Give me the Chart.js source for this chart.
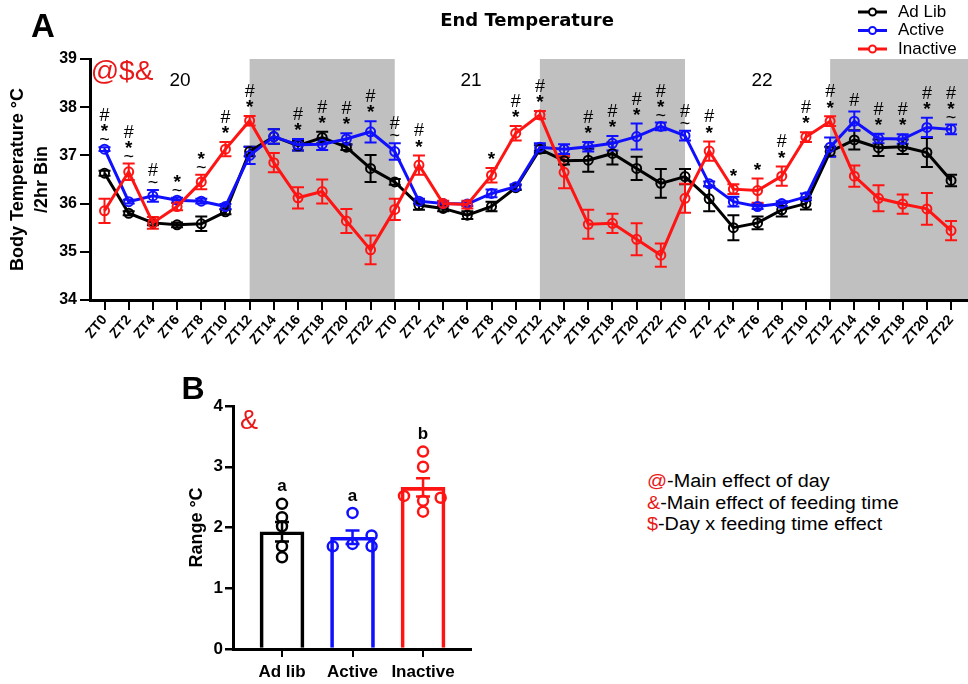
<!DOCTYPE html>
<html>
<head>
<meta charset="utf-8">
<script src="https://cdn.jsdelivr.net/npm/chart.js@4.4.1/dist/chart.umd.min.js"></script>
<style>
  body { margin: 0; background: #fff; width: 968px; height: 684px; position: relative; overflow: hidden;
         font-family: "Liberation Sans", Arial, sans-serif; }
  .t { position: absolute; white-space: nowrap; line-height: 1; transform: translate(-50%, -50%); }
  .note { position: absolute; left: 647px; white-space: nowrap; font-size: 18px; line-height: 21.6px;
          transform: scaleX(1.1); transform-origin: left center; }
  .red { color: #e81818; }
  #cA { position: absolute; left: 0; top: 0; }
  #cB { position: absolute; left: 170px; top: 375px; }
</style>
</head>
<body>
<canvas id="cA" width="968" height="370"></canvas>
<canvas id="cB" width="310" height="309"></canvas>

<div class="t" style="left:43px;top:25px;font-size:33px;font-weight:bold">A</div>
<div class="t" style="left:527px;top:20px;font-size:18px;font-weight:bold;font-family:'DejaVu Sans'">End Temperature</div>
<div class="t red" style="left:122px;top:71px;font-size:28px">@$&amp;</div>
<div class="t" style="left:180px;top:79px;font-size:19px">20</div>
<div class="t" style="left:471px;top:79px;font-size:19px">21</div>
<div class="t" style="left:762px;top:79px;font-size:19px">22</div>

<div class="t" style="left:193px;top:388px;font-size:32px;font-weight:bold">B</div>
<div class="t red" style="left:249px;top:420px;font-size:27px">&amp;</div>

<div class="note" style="top:471px"><span class="red">@</span>-Main effect of day</div>
<div class="note" style="top:492.6px"><span class="red">&amp;</span>-Main effect of feeding time</div>
<div class="note" style="top:514.2px"><span class="red">$</span>-Day x feeding time effect</div>

<script>
// ---- panel A: end temperature, 2h bins over days 20-22 ----
const ztLabels = ['ZT0','ZT2','ZT4','ZT6','ZT8','ZT10','ZT12','ZT14','ZT16','ZT18','ZT20','ZT22',
                  'ZT0','ZT2','ZT4','ZT6','ZT8','ZT10','ZT12','ZT14','ZT16','ZT18','ZT20','ZT22',
                  'ZT0','ZT2','ZT4','ZT6','ZT8','ZT10','ZT12','ZT14','ZT16','ZT18','ZT20','ZT22']

const adLib = [36.63, 35.80, 35.60, 35.56, 35.58, 35.83, 37.08, 37.39, 37.20, 37.37, 37.17, 36.73,
               36.45, 35.97, 35.90, 35.76, 35.94, 36.33, 37.13, 36.89, 36.90, 37.04, 36.73, 36.42,
               36.56, 36.10, 35.50, 35.60, 35.87, 36.00, 37.08, 37.32, 37.16, 37.18, 37.06, 36.48]
const adLibSem = [0.05, 0.04, 0.05, 0.05, 0.15, 0.05, 0.10, 0.15, 0.10, 0.12, 0.06, 0.28,
                  0.06, 0.10, 0.06, 0.08, 0.10, 0.05, 0.08, 0.08, 0.24, 0.23, 0.24, 0.30,
                  0.16, 0.26, 0.26, 0.13, 0.14, 0.12, 0.10, 0.20, 0.17, 0.15, 0.30, 0.12]

const active = [37.13, 36.04, 36.16, 36.07, 36.05, 35.94, 37.00, 37.39, 37.22, 37.23, 37.34, 37.49,
                37.08, 36.05, 36.00, 35.99, 36.21, 36.35, 37.17, 37.13, 37.18, 37.25, 37.39, 37.60,
                37.41, 36.41, 36.04, 35.94, 36.00, 36.14, 37.17, 37.71, 37.35, 37.34, 37.58, 37.54]
const activeSem = [0.04, 0.04, 0.12, 0.05, 0.05, 0.05, 0.18, 0.15, 0.12, 0.12, 0.12, 0.22,
                   0.17, 0.05, 0.05, 0.04, 0.08, 0.05, 0.08, 0.10, 0.10, 0.15, 0.27, 0.08,
                   0.10, 0.05, 0.10, 0.05, 0.05, 0.07, 0.20, 0.20, 0.10, 0.10, 0.20, 0.10]

const inactive = [35.85, 36.66, 35.60, 35.94, 36.45, 37.13, 37.72, 36.85, 36.12, 36.25, 35.64, 35.04,
                  35.88, 36.80, 36.00, 35.98, 36.59, 37.46, 37.84, 36.65, 35.57, 35.59, 35.26, 34.93,
                  36.11, 37.09, 36.30, 36.27, 36.57, 37.38, 37.71, 36.57, 36.11, 35.99, 35.89, 35.44]
const inactiveSem = [0.25, 0.17, 0.12, 0.08, 0.15, 0.15, 0.10, 0.20, 0.22, 0.25, 0.25, 0.30,
                     0.22, 0.20, 0.06, 0.08, 0.15, 0.15, 0.08, 0.33, 0.30, 0.20, 0.33, 0.24,
                     0.30, 0.20, 0.10, 0.25, 0.20, 0.10, 0.10, 0.22, 0.27, 0.20, 0.33, 0.20]

// significance marks per bin, top to bottom
const sigMarks = ['#*~','#*~','#~','*~','*~','#*','#*','','#*','#*','#*','#*',
                  '#~','#*','','','*','#*','#*','','#*','#*','#*','#*~',
                  '#~','#*','*','*','#*','#*','#*','#','#*','#*','#*','#*~']

// dark phase (ZT12-ZT24), bin index
const darkStart = [6, 18, 30]
const darkEnd = [12, 24, 36]

// ---- panel B: range ----
const groups = ['Ad lib', 'Active', 'Inactive']
const rangeMean = [1.93, 1.84, 2.66]
const rangeSem = [0.16, 0.11, 0.15]
const adLibRange = [2.39, 2.17, 2.02, 1.69, 1.51]
const adLibJitter = [0, 0, 0, 0, 0]
const activeRange = [2.24, 1.69, 1.73, 1.87, 1.69]
const activeJitter = [0, -0.28, 0, 0.27, 0.27]
const inactiveRange = [3.25, 3.00, 2.52, 2.49, 2.44, 2.26]
const inactiveJitter = [0, 0, -0.27, 0.25, 0, 0]
const groupLetters = ['a', 'a', 'b']

const BLACK = '#000000'
const BLUE = '#1010ff'
const RED = '#ff1414'
const FONT = '"Liberation Sans", Arial, sans-serif'
Chart.defaults.font.family = FONT
Chart.defaults.color = '#000'

function toXY(values) {
  return values.map((v, i) => ({x: i, y: v}))
}

function drawErr(ctx, x, yHi, yLo, cap, color, w) {
  ctx.strokeStyle = color
  ctx.lineWidth = w
  ctx.beginPath()
  ctx.moveTo(x, yHi); ctx.lineTo(x, yLo)
  ctx.moveTo(x - cap, yHi); ctx.lineTo(x + cap, yHi)
  ctx.moveTo(x - cap, yLo); ctx.lineTo(x + cap, yLo)
  ctx.stroke()
}

const shadePlugin = {
  id: 'shade',
  beforeDraw(chart) {
    const {ctx, chartArea: a, scales: {x}} = chart
    ctx.save()
    ctx.fillStyle = '#c0c0c0'
    darkStart.forEach((s, k) => {
      const x0 = Math.max(x.getPixelForValue(s), a.left)
      const x1 = Math.min(x.getPixelForValue(darkEnd[k]), a.right)
      ctx.fillRect(x0, a.top, x1 - x0, a.bottom - a.top)
    })
    ctx.restore()
  }
}

const errPluginA = {
  id: 'errA',
  beforeDatasetsDraw(chart) {
    const {ctx, scales: {x, y}} = chart
    ctx.save()
    chart.data.datasets.forEach(ds => {
      ds.data.forEach((p, i) => {
        const e = ds.errors[i]
        drawErr(ctx, x.getPixelForValue(p.x), y.getPixelForValue(p.y + e), y.getPixelForValue(p.y - e), 6, ds.borderColor, 2)
      })
    })
    ctx.restore()
  }
}

const gapBelow = {'~': 7, '*': 12, '#': 11}

const markPlugin = {
  id: 'marks',
  afterDatasetsDraw(chart) {
    const {ctx, scales: {x, y}} = chart
    ctx.save()
    ctx.fillStyle = '#000'
    ctx.textAlign = 'center'
    ctx.textBaseline = 'middle'
    sigMarks.forEach((m, i) => {
      if (!m) return
      let top = Infinity
      chart.data.datasets.forEach(ds => {
        top = Math.min(top, y.getPixelForValue(ds.data[i].y + ds.errors[i]))
      })
      const syms = m.split('').reverse()
      let py = top - gapBelow[syms[0]]
      syms.forEach((s, k) => {
        if (k > 0) py -= 12
        ctx.font = (s === '*' ? 'bold 19px ' : '18px ') + FONT
        ctx.fillText(s, x.getPixelForValue(i), py + (s === '*' ? 4 : 0))
      })
    })
    ctx.restore()
  }
}

const legendPlugin = {
  id: 'legendA',
  afterDraw(chart) {
    const ctx = chart.ctx
    ctx.save()
    ctx.textBaseline = 'middle'
    ctx.font = '17px ' + FONT
    chart.data.datasets.forEach((ds, k) => {
      const yy = 12 + k * 18.5
      ctx.strokeStyle = ds.borderColor
      ctx.lineWidth = 3
      ctx.beginPath(); ctx.moveTo(858, yy); ctx.lineTo(887, yy); ctx.stroke()
      ctx.lineWidth = 2
      ctx.fillStyle = '#fff'
      ctx.beginPath(); ctx.arc(872.5, yy, 3.5, 0, Math.PI * 2); ctx.fill(); ctx.stroke()
      ctx.fillStyle = '#000'
      ctx.fillText(ds.label, 898, yy)
    })
    ctx.restore()
  }
}

function lineSet(label, values, errs, color, order) {
  return {
    label: label,
    data: toXY(values),
    errors: errs,
    borderColor: color,
    backgroundColor: color,
    pointBackgroundColor: 'rgba(0,0,0,0)',
    pointBorderColor: color,
    order: order
  }
}

const axisGrid = {drawOnChartArea: false, drawTicks: true, tickLength: 10, color: '#000', lineWidth: 2}
const axisBorder = {display: true, color: '#000', width: 3}

new Chart(document.getElementById('cA'), {
  type: 'line',
  data: {
    datasets: [
      lineSet('Ad Lib', adLib, adLibSem, BLACK, 3),
      lineSet('Active', active, activeSem, BLUE, 2),
      lineSet('Inactive', inactive, inactiveSem, RED, 1)
    ]
  },
  options: {
    responsive: false,
    animation: false,
    layout: {autoPadding: false, padding: {top: 59, left: 0, right: 0, bottom: 0}},
    plugins: {legend: {display: false}, tooltip: {enabled: false}},
    elements: {
      line: {borderWidth: 3, tension: 0},
      point: {radius: 4.5, borderWidth: 2}
    },
    scales: {
      x: {
        type: 'linear', min: -0.6, max: 35.7,
        afterBuildTicks: s => { s.ticks = ztLabels.map((_, i) => ({value: i})) },
        afterFit: s => { s.height = 70; s.paddingLeft = 0; s.paddingRight = 0 },
        ticks: {autoSkip: false, minRotation: 50, maxRotation: 50, padding: 2,
                font: {size: 14, weight: 'bold'}, callback: v => ztLabels[v]},
        grid: axisGrid,
        border: axisBorder
      },
      y: {
        min: 34, max: 39,
        afterFit: s => { s.width = 90 },
        ticks: {stepSize: 1, padding: 3, font: {size: 16, weight: 'bold'}},
        title: {display: true, text: ['Body Temperature \u00B0C', '/2hr Bin'],
                font: {size: 18, weight: 'bold', lineHeight: 1.333}, padding: {top: 6, bottom: 0}},
        grid: axisGrid,
        border: axisBorder
      }
    }
  },
  plugins: [shadePlugin, errPluginA, markPlugin, legendPlugin]
})

// ---- panel B ----
const groupColors = [BLACK, BLUE, RED]
const groupPoints = [adLibRange, activeRange, inactiveRange]
const groupJitter = [adLibJitter, activeJitter, inactiveJitter]

const errPluginB = {
  id: 'errB',
  afterDatasetsDraw(chart) {
    const {ctx, scales: {x, y}} = chart
    ctx.save()
    ctx.textAlign = 'center'
    ctx.textBaseline = 'middle'
    ctx.font = 'bold 17px ' + FONT
    ctx.fillStyle = '#000'
    rangeMean.forEach((m, i) => {
      const px = x.getPixelForValue(i)
      drawErr(ctx, px, y.getPixelForValue(m + rangeSem[i]), y.getPixelForValue(m - rangeSem[i]), 7, groupColors[i], 2.5)
      const top = Math.max(...groupPoints[i])
      ctx.fillText(groupLetters[i], px, y.getPixelForValue(top) - 17)
    })
    ctx.restore()
  }
}

function dotSet(i) {
  return {
    type: 'scatter',
    data: groupPoints[i].map((v, k) => ({x: i + groupJitter[i][k], y: v})),
    borderColor: groupColors[i],
    backgroundColor: 'rgba(0,0,0,0)',
    pointRadius: 5,
    pointBorderWidth: 2.5,
    order: 1
  }
}

new Chart(document.getElementById('cB'), {
  type: 'bar',
  data: {
    datasets: [
      {
        type: 'bar',
        data: toXY(rangeMean),
        backgroundColor: 'rgba(0,0,0,0)',
        borderColor: groupColors,
        borderWidth: 3,
        barThickness: 44,
        order: 2
      },
      dotSet(0), dotSet(1), dotSet(2)
    ]
  },
  options: {
    responsive: false,
    animation: false,
    layout: {autoPadding: false, padding: {top: 31, left: 0, right: 9, bottom: 0}},
    plugins: {legend: {display: false}, tooltip: {enabled: false}},
    scales: {
      x: {
        type: 'linear', min: -0.695, max: 2.68, offset: false,
        afterBuildTicks: s => { s.ticks = groups.map((_, i) => ({value: i})) },
        afterFit: s => { s.height = 35; s.paddingLeft = 0; s.paddingRight = 0 },
        ticks: {autoSkip: false, maxRotation: 0, padding: 5, font: {size: 17, weight: 'bold'}, callback: v => groups[v]},
        grid: {offset: false, drawOnChartArea: false, drawTicks: true, tickLength: 8, color: '#000', lineWidth: 2},
        border: axisBorder
      },
      y: {
        min: 0, max: 4,
        afterFit: s => { s.width = 63 },
        ticks: {stepSize: 1, padding: 2, font: {size: 17, weight: 'bold'}},
        title: {display: true, text: 'Range \u00B0C', font: {size: 18, weight: 'bold'}, padding: {top: 16, bottom: 0}},
        grid: {drawOnChartArea: false, drawTicks: true, tickLength: 8, color: '#000', lineWidth: 2.5},
        border: axisBorder
      }
    }
  },
  plugins: [errPluginB]
})
</script>
</body>
</html>
